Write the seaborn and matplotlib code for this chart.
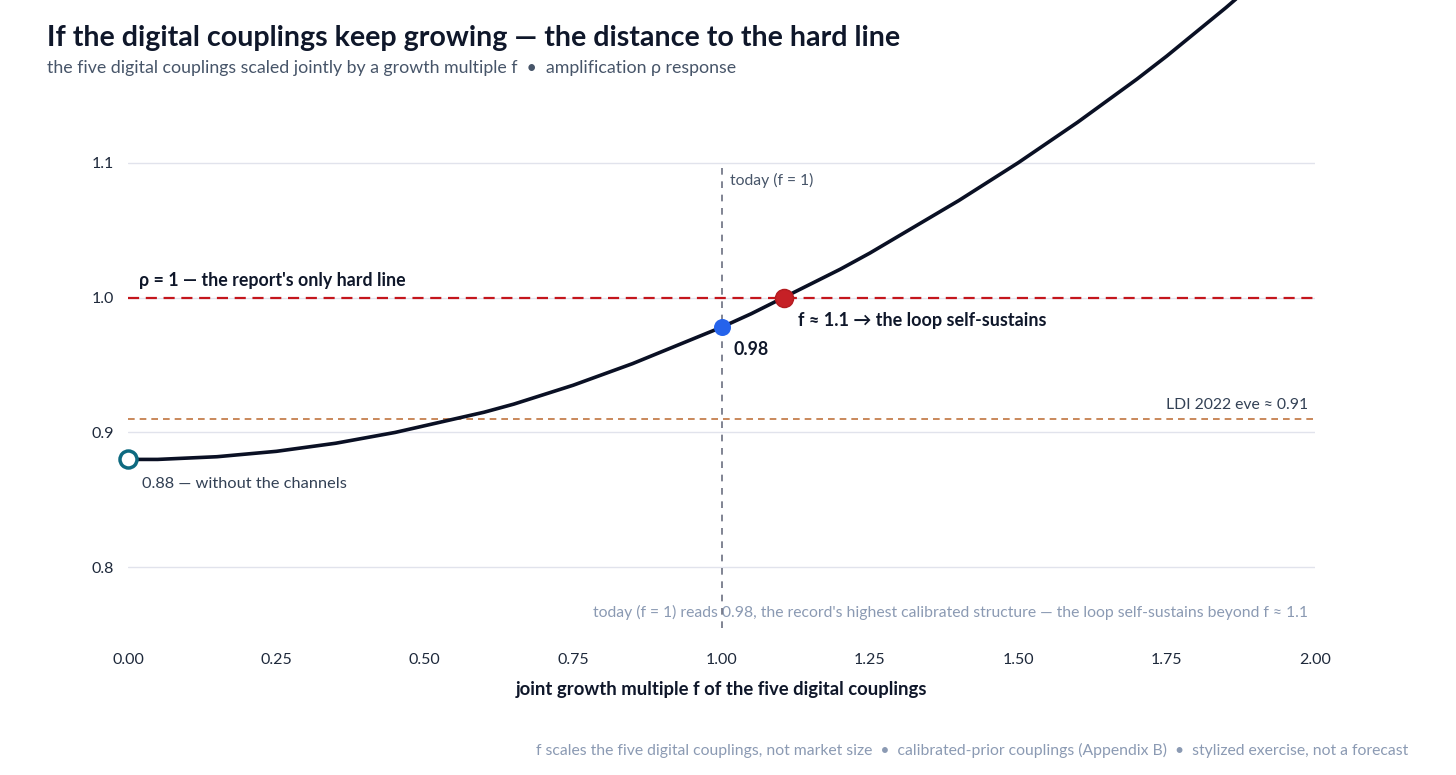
import matplotlib
matplotlib.use("Agg")
import matplotlib.pyplot as plt
import seaborn as sns
import pandas as pd

# ---- data ----
growth_f = [0.00, 0.05, 0.10, 0.15, 0.20, 0.25, 0.30, 0.35, 0.40, 0.45,
            0.50, 0.55, 0.60, 0.65, 0.70, 0.75, 0.80, 0.85, 0.90, 0.95,
            1.00, 1.05, 1.10, 1.15, 1.20, 1.25, 1.30, 1.35, 1.40, 1.45,
            1.50, 1.55, 1.60, 1.65, 1.70, 1.75, 1.80, 1.85, 1.90, 1.95, 2.00]
rho = [0.880, 0.880, 0.881, 0.882, 0.884, 0.886, 0.889, 0.892, 0.896, 0.900,
       0.905, 0.910, 0.915, 0.921, 0.928, 0.935, 0.943, 0.951, 0.960, 0.969,
       0.978, 0.988, 0.999, 1.010, 1.021, 1.033, 1.046, 1.059, 1.072, 1.086,
       1.100, 1.115, 1.130, 1.146, 1.162, 1.179, 1.197, 1.215, 1.234, 1.253, 1.272]
base_point = (0.0, 0.88)
today_point = (1.0, 0.978)
cross_point = (1.105, 1.0)
hard_line = 1.0
ldi_level = 0.91
y_ticks = [0.8, 0.9, 1.0, 1.1]
x_ticks = [0.0, 0.25, 0.5, 0.75, 1.0, 1.25, 1.5, 1.75, 2.0]

sns.set_theme(style="white")
plt.rcParams["font.family"] = ["Lato", "DejaVu Sans"]

df = pd.DataFrame({"f": growth_f, "rho": rho})

fig = plt.figure(figsize=(14.56, 7.75), dpi=100)
ax = fig.add_axes([128/1456, 1-628/775, (1315-128)/1456, (628-129)/775])

ax.set_xlim(0, 2)
ax.set_ylim(0.755, 1.125)
for s in ax.spines.values():
    s.set_visible(False)
ax.set_yticks(y_ticks)
ax.set_yticklabels([f"{v:.1f}" for v in y_ticks])
ax.set_xticks(x_ticks)
ax.set_xticklabels([f"{v:.2f}" for v in x_ticks])
ax.tick_params(axis="both", length=0, labelsize=11.5, colors="#1e293b")
ax.tick_params(axis="x", pad=18)
ax.tick_params(axis="y", pad=10)
ax.grid(axis="y", color="#e1e3ec", linewidth=1)
ax.grid(axis="x", visible=False)

# reference lines
ax.axhline(ldi_level, color="#c0743f", linestyle=(0, (4, 3)), linewidth=1.2, zorder=2)
ax.axhline(hard_line, color="#c4161c", linestyle=(0, (5, 3)), linewidth=1.6, zorder=2)
ax.vlines(1.0, 0.755, y_ticks[-1], color="#6b6f80", linestyle=(0, (4, 4)),
          linewidth=1.2, zorder=5)

# curve
sns.lineplot(data=df, x="f", y="rho", ax=ax, color="#0a1024", linewidth=2.6,
             zorder=4, legend=False)
for ln in ax.lines:
    ln.set_clip_on(False)

# points
ax.scatter([base_point[0]], [base_point[1]], s=150, facecolor="white",
           edgecolor="#0e6a80", linewidth=2.5, zorder=6, clip_on=False)
ax.scatter([today_point[0]], [today_point[1]], s=150, color="#2563eb", zorder=6,
           linewidth=0)
ax.scatter([cross_point[0]], [cross_point[1]], s=170, color="#c62026", zorder=6,
           edgecolor="#b31b20", linewidth=1)

ax.set_xlabel("joint growth multiple f of the five digital couplings",
              fontsize=13.3, fontweight="bold", color="#0f172a", labelpad=10)
ax.set_ylabel("")

# annotations
ax.annotate("ρ = 1 — the report's only hard line", xy=(0, hard_line),
            xytext=(11, 9), textcoords="offset pixels", fontsize=12.8,
            fontweight="bold", color="#0f172a", va="bottom", ha="left")
ax.annotate("f ≈ 1.1 → the loop self-sustains", xy=cross_point,
            xytext=(14, -23), textcoords="offset pixels", fontsize=13,
            fontweight="bold", color="#0f172a", va="center", ha="left")
ax.annotate(f"{today_point[1]:.2f}", xy=today_point,
            xytext=(12, -22), textcoords="offset pixels", fontsize=12.8,
            fontweight="bold", color="#0f172a", va="center", ha="left")
ax.annotate(f"{base_point[1]:.2f} — without the channels", xy=base_point,
            xytext=(14, -25), textcoords="offset pixels", fontsize=11.8,
            color="#334155", va="center", ha="left")
ax.annotate("today (f = 1)", xy=(1.0, 1.1), xytext=(9, -18),
            textcoords="offset pixels", fontsize=11.3, color="#475569",
            va="center", ha="left")
ax.annotate(f"LDI 2022 eve ≈ {ldi_level:.2f}", xy=(2.0, ldi_level), xytext=(-7, 14),
            textcoords="offset pixels", fontsize=11.3, color="#334155",
            va="center", ha="right")
ax.annotate("today (f = 1) reads 0.98, the record's highest calibrated structure — "
            "the loop self-sustains beyond f ≈ 1.1",
            xy=(2.0, 0.755), xytext=(-7, 16), textcoords="offset pixels",
            fontsize=11.3, color="#8b9ab3", va="center", ha="right")

# titles
fig.text(47/1456, 1-38/775, "If the digital couplings keep growing — the distance to the hard line",
         fontsize=20.6, fontweight="bold", color="#0f172a", va="center", ha="left")
fig.text(47/1456, 1-68/775, "the five digital couplings scaled jointly by a growth multiple f  •  amplification ρ response",
         fontsize=12.8, color="#475569", va="center", ha="left")
fig.text(1408/1456, 1-750/775, "f scales the five digital couplings, not market size  •  "
         "calibrated-prior couplings (Appendix B)  •  stylized exercise, not a forecast",
         fontsize=11.3, color="#8b9ab3", va="center", ha="right")

fig.savefig("out.png", dpi=100, facecolor="white")
